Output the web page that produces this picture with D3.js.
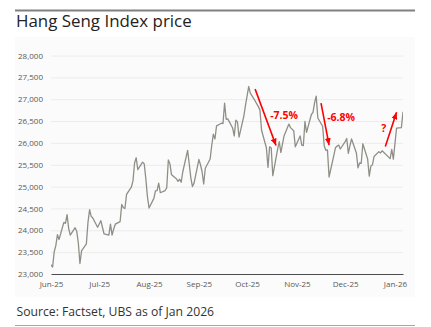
<!DOCTYPE html>
<html><head><meta charset="utf-8">
<script src="https://cdn.jsdelivr.net/npm/d3@7"></script>
<style>html,body{margin:0;padding:0;background:#fff;} svg{display:block;font-family:"Open Sans",sans-serif;}</style>
</head><body><svg id="c" width="431" height="327"></svg>
<script>
// ---- data ----
const title = "Hang Seng Index price";
const source = "Source: Factset, UBS as of Jan 2026";
const startDate = "2025-05-30", endDate = "2026-01-06";
const holidays = ["2025-07-01","2025-10-01","2025-10-07","2025-10-29","2025-12-25","2025-12-26","2026-01-01"];
const may25 = [23290];
const jun25 = [23160,23510,23650,23900,23790,24180,24160,24360,24040,23890,24060,23980,23710,23240,23530,23690,24180,24470,24320,24280,24070];
const jul25 = [24220,24070,23920,23890,24140,23890,24030,24140,24200,24590,24520,24500,24820,24990,25130,25540,25660,25390,25560,25520,25180,24770];
const aug25 = [24510,24730,24900,24910,25080,24860,24910,24970,25610,25520,25270,25180,25120,25170,25100,25340,25830,25520,25200,25000,25080];
const sep25 = [25620,25500,25340,25060,25420,25630,25940,26200,26090,26390,26450,26440,26910,26540,26550,26340,26160,26520,26480,26130,26620,26860];
const oct25 = [27290,27140,26960,26830,26750,26290,25890,25440,25910,25890,25250,25860,26030,25780,25970,26160,26430,26350,26280,25910];
const nov25 = [26160,25950,25940,26490,26240,26650,26700,26920,27070,26570,26380,25930,25830,25840,25220,25720,25890,25930,25950,25860];
const dec25 = [26030,26100,25760,25940,26090,25770,25430,25540,25530,25980,25630,25240,25470,25500,25690,25800,25770,25820,25640,25850,25630];
const jan26 = [26340,26350,26710];
const closes = [...may25,...jun25,...jul25,...aug25,...sep25,...oct25,...nov25,...dec25,...jan26];
const yTicks = [23000,23500,24000,24500,25000,25500,26000,26500,27000,27500,28000];
const xTicks = ["2025-06-01","2025-07-01","2025-08-01","2025-09-01","2025-10-01","2025-11-01","2025-12-01","2026-01-01"];
const xDomain = ["2025-06-01","2026-01-06"];
const arrowFromDates = ["2025-10-06","2025-11-16","2025-12-26"];
const arrowFromValues = [27230,26910,25920];
const arrowToDates = ["2025-10-19","2025-11-21","2026-01-02"];
const arrowToValues = [25940,25950,26700];
const noteTexts = ["-7.5%","-6.8%","?"];
const noteDates = ["2025-10-24","2025-11-28T12:00","2025-12-25"];
const noteValues = [26640,26600,26350];

// ---- build ----
const parse = s => new Date(s.length > 10 ? s + "Z" : s + "T00:00Z");
const fmtDay = d3.utcFormat("%Y-%m-%d");
const dates = [];
for (let t = parse(startDate); t <= parse(endDate); t = d3.utcDay.offset(t, 1)) {
  const wd = t.getUTCDay();
  if (wd === 0 || wd === 6) continue;
  if (holidays.includes(fmtDay(t))) continue;
  dates.push(t);
}
const series = dates.map((d, i) => ({date: d, value: closes[i]})).filter(p => p.value != null);

const svg = d3.select("#c");
const W = 431, H = 327;
svg.append("rect").attr("width", W).attr("height", H).attr("fill", "#fff");
svg.append("rect").attr("x", 15).attr("y", 37).attr("width", 400).attr("height", 260).attr("fill", "#fbfbfb");
svg.append("line").attr("x1", 15).attr("x2", 415).attr("y1", 10.5).attr("y2", 10.5).attr("stroke", "#808080").attr("stroke-width", 2);
svg.append("text").attr("x", 16).attr("y", 27).attr("font-size", 16.9).attr("fill", "#222").text(title);
svg.append("text").attr("x", 16.5).attr("y", 316).attr("font-size", 12.2).attr("fill", "#333").text(source);
svg.append("line").attr("x1", 15).attr("x2", 415).attr("y1", 325.5).attr("y2", 325.5).attr("stroke", "#a6a6a6").attr("stroke-width", 1);

const x = d3.scaleUtc().domain(xDomain.map(parse)).range([51, 403]);
const y = d3.scaleLinear().domain([23000, 28000]).range([274, 55.5]);

// gridlines + y labels
const yAxis = d3.axisLeft(y).tickValues(yTicks).tickFormat(d3.format(",")).tickSize(-(403 - 51)).tickPadding(8);
const gy = svg.append("g").attr("transform", "translate(51,0)").call(yAxis);
gy.select(".domain").remove();
gy.selectAll(".tick line").attr("stroke", "#ececec").attr("stroke-width", 1);
gy.selectAll(".tick text").attr("font-size", 8).attr("fill", "#595959").attr("font-family", "Open Sans, sans-serif");
gy.selectAll(".tick").filter(d => d === 23000).select("line").remove();

// x axis
const xAxis = d3.axisBottom(x).tickValues(xTicks.map(parse)).tickFormat(d3.utcFormat("%b-%y")).tickSize(0).tickPadding(7);
const gx = svg.append("g").attr("transform", "translate(0,274)").call(xAxis);
gx.select(".domain").attr("stroke", "#4d4d4d").attr("stroke-width", 1.2);
gx.selectAll(".tick text").attr("font-size", 8).attr("fill", "#595959").attr("font-family", "Open Sans, sans-serif");

// line
svg.append("clipPath").attr("id", "clip").append("rect").attr("x", 51).attr("y", 0).attr("width", 352).attr("height", 327);
const line = d3.line().x(d => x(d.date)).y(d => y(d.value));
svg.append("path").datum(series).attr("clip-path", "url(#clip)")
  .attr("d", line).attr("fill", "none").attr("stroke", "#8f8f88").attr("stroke-width", 1.3).attr("stroke-linejoin", "round");

// annotations
const defs = svg.append("defs");
defs.append("marker").attr("id", "ah").attr("markerUnits", "userSpaceOnUse")
  .attr("markerWidth", 7).attr("markerHeight", 6).attr("refX", 7).attr("refY", 3).attr("orient", "auto")
  .append("path").attr("d", "M0,0 L7,3 L0,6 Z").attr("fill", "#ff0000");
arrowFromDates.forEach((fd, i) => {
  svg.append("line")
    .attr("x1", x(parse(fd))).attr("y1", y(arrowFromValues[i]))
    .attr("x2", x(parse(arrowToDates[i]))).attr("y2", y(arrowToValues[i]))
    .attr("stroke", "#ff0000").attr("stroke-width", 1.6).attr("marker-end", "url(#ah)");
});
noteTexts.forEach((t, i) => {
  svg.append("text").attr("x", x(parse(noteDates[i]))).attr("y", y(noteValues[i]))
    .attr("text-anchor", "middle").attr("dominant-baseline", "central")
    .attr("font-size", 10.5).attr("font-weight", "bold").attr("fill", "#ff0000").text(t);
});
</script></body></html>
